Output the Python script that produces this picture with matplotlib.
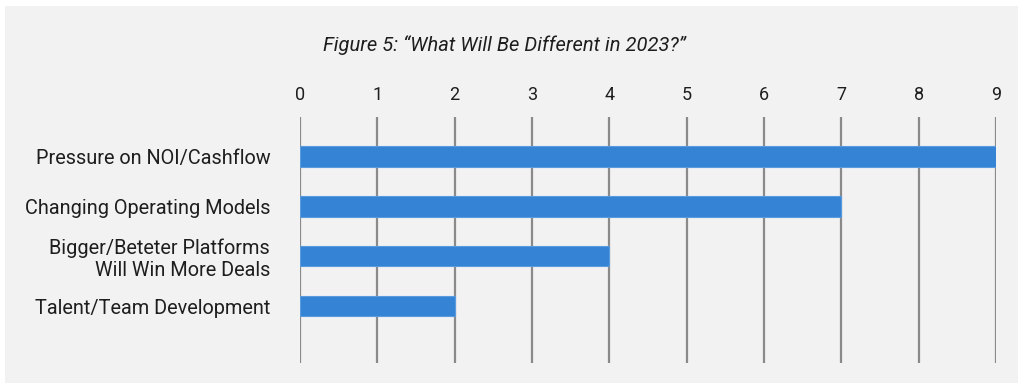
import matplotlib
matplotlib.use("Agg")
import matplotlib.pyplot as plt
from matplotlib.patches import Rectangle

plt.rcParams['font.family'] = ['Roboto', 'DejaVu Sans']

categories = ["Pressure on NOI/Cashflow", "Changing Operating Models",
              "Bigger/Beteter Platforms\nWill Win More Deals", "Talent/Team Development"]
values = [9, 7, 4, 2]
ticks = list(range(0, 10))
title = "Figure 5: \u201cWhat Will Be Different in 2023?\u201d"

W, H = 1024, 389
fig = plt.figure(figsize=(W / 100, H / 100), dpi=100)
fig.patch.set_facecolor("white")
bg = Rectangle((5 / W, 1 - 383 / H), (1018 - 5) / W, (383 - 6) / H,
               transform=fig.transFigure, facecolor="#f2f2f2", edgecolor="none", zorder=-10)
fig.patches.append(bg)

ax = fig.add_axes([300 / W, 1 - 363 / H, (996 - 300) / W, (363 - 117) / H])
ax.set_facecolor("none")
pos = list(range(len(categories)))
ax.barh(pos, values, height=0.41, color="#3483d4", edgecolor="#5a9be0", linewidth=0.8, zorder=3)
ax.set_xlim(0, 9)
ax.set_ylim(3 + 1.14, -0.79)
ax.set_xticks(ticks)
ax.xaxis.tick_top()
ax.tick_params(axis="x", length=0, pad=9.5, labelsize=13, labelcolor="#1e1e1e")
ax.set_yticks(pos)
ax.set_yticklabels(categories, fontsize=14.3, color="#1e1e1e", ha="right", multialignment="right")
ax.tick_params(axis="y", length=0, pad=21.5)
ax.grid(axis="x", color="#8a8a8a", linewidth=1.6, zorder=1)
for s in ax.spines.values():
    s.set_visible(False)

fig.text(504 / W, 1 - 45 / H, title, ha="center", va="center", fontsize=14.5,
         style="italic", color="#1e1e1e")

fig.savefig("out.png", dpi=100)
